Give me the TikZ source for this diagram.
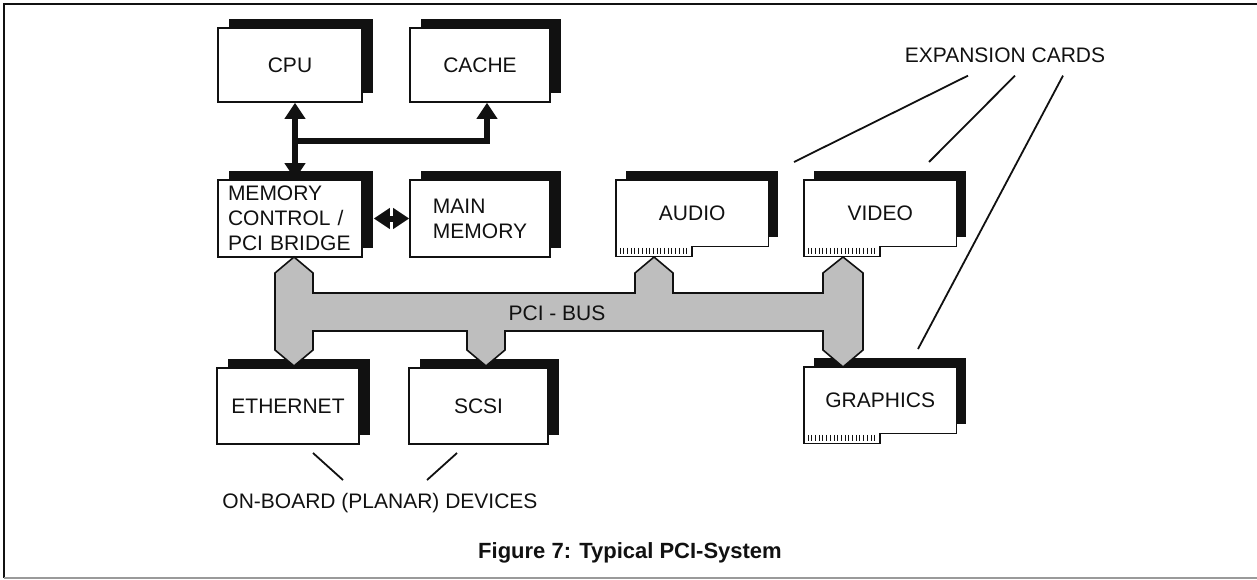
\documentclass[tikz,border=0pt]{standalone}
\usepackage{fontspec}
\setmainfont{Liberation Sans}
\usepackage{tikz}
\usetikzlibrary{arrows.meta,positioning,shadows,calc}
\definecolor{ink}{HTML}{111111}
\definecolor{busgray}{HTML}{BEBEBE}
\definecolor{rule}{HTML}{9A9A9A}

\begin{document}
\begin{tikzpicture}[x=1pt,y=-1pt,
  >={Triangle[length=16pt,width=20pt]},
  lbl/.style={font=\fontsize{21}{25}\selectfont, text=ink},
  unit/.style={lbl, draw=ink, line width=1.6pt, fill=white, inner sep=0pt,
    general shadow={fill=ink, shadow xshift=11pt, shadow yshift=9pt}},
  card/.style={lbl, fill=white, inner sep=0pt, minimum width=152pt, minimum height=66pt,
    anchor=north west, general shadow={fill=ink, shadow xshift=10pt, shadow yshift=9.5pt}},
  cardedge/.style={draw=ink, line width=1.6pt},
  finger/.style={draw=ink, line width=0.8pt},
  link/.style={draw=ink, line width=6pt},
  leader/.style={draw=ink, line width=1.8pt}]
  \useasboundingbox (0,0) rectangle (1257,579);
  % frame
  \draw[ink, line width=1.6pt] (1257,4) -- (4,4) -- (4,578);
  \draw[rule, line width=1.6pt] (4,578) -- (1257,578);
  % planar units
  \node[unit, minimum width=144pt, minimum height=74pt] (cpu) at (290,65) {CPU};
  \node[unit, minimum width=140pt, minimum height=74pt] (cache) at (480,65) {CACHE};
  \node[unit, minimum width=144pt, minimum height=77pt, text width=124pt, align=left] (memctl) at (290,218.5) {MEMORY\\CONTROL /\\PCI BRIDGE};
  \node[unit, minimum width=140pt, minimum height=77pt, align=left] (mainmem) at (480,218.5) {MAIN\\MEMORY};
  \node[unit, minimum width=142pt, minimum height=76pt] (ether) at (288,406) {ETHERNET};
  \node[unit, minimum width=139pt, minimum height=76pt] (scsi) at (478.5,406) {SCSI};
  % expansion cards
  \node[card] (audio) at (616,180) {AUDIO};
  \node[card] (video) at (804,180) {VIDEO};
  \node[card] (graphics) at (804,367) {GRAPHICS};
  \foreach \c in {audio,video,graphics} {
    \draw[cardedge] (\c.south east) -- (\c.north east) -- (\c.north west)
      -- ($(\c.south west)+(0,10)$) -- ($(\c.south west)+(76,10)$)
      -- ($(\c.south west)+(76,0)$) -- cycle;
    \foreach \i in {0,...,18}
      \draw[finger] ($(\c.south west)+(4+3.7*\i,1.5)$) -- ++(0,6);
  }
  % host arrows
  \coordinate (jn) at ($(cpu.south)!0.5!(memctl.north)+(5,0)$);
  \draw[link, <->] ([xshift=5pt]cpu.south) -- ([xshift=5pt]memctl.north);
  \draw[link, ->] (jn) -| ([xshift=7pt]cache.south);
  \draw[link, <->] ([xshift=11pt]memctl.east) -- (mainmem.west);
  % pci bus
  \filldraw[fill=busgray, draw=ink, line width=1.6pt]
    (294,257) -- (313,273) -- (313,293) -- (635,293) -- (635,273) -- (654,257)
    -- (673,273) -- (673,293) -- (823,293) -- (823,273) -- (843,257) -- (863,273)
    -- (863,350) -- (843,367) -- (823,350) -- (823,331) -- (505,331) -- (505,350)
    -- (486,366) -- (467,350) -- (467,331) -- (313,331) -- (313,350) -- (294,366)
    -- (275,350) -- (275,273) -- cycle;
  \node[lbl] (pcibus) at (557,313) {PCI - BUS};
  % labels
  \node[lbl, inner sep=0pt] (expcards) at (1005,55) {EXPANSION CARDS};
  \node[lbl, inner sep=0pt] (onboard) at (380,503) {ON-BOARD (PLANAR) DEVICES};
  \coordinate (audiotag) at (794,162);
  \coordinate (videotag) at (929,162);
  \coordinate (graphtag) at (918,349);
  \coordinate (ethtag) at (313,453);
  \coordinate (scsitag) at (457,453);
  \draw[leader] ($(expcards.south)+(-37,13)$) -- (audiotag);
  \draw[leader] ($(expcards.south)+(10,13)$) -- (videotag);
  \draw[leader] ($(expcards.south)+(58,13)$) -- (graphtag);
  \draw[leader] ($(onboard.north)+(-37,-13)$) -- (ethtag);
  \draw[leader] ($(onboard.north)+(47,-13)$) -- (scsitag);
  \node[font=\fontsize{22}{26}\selectfont\bfseries, text=ink] (caption) at (630,553) {Figure 7: Typical PCI-System};
\end{tikzpicture}
\end{document}
